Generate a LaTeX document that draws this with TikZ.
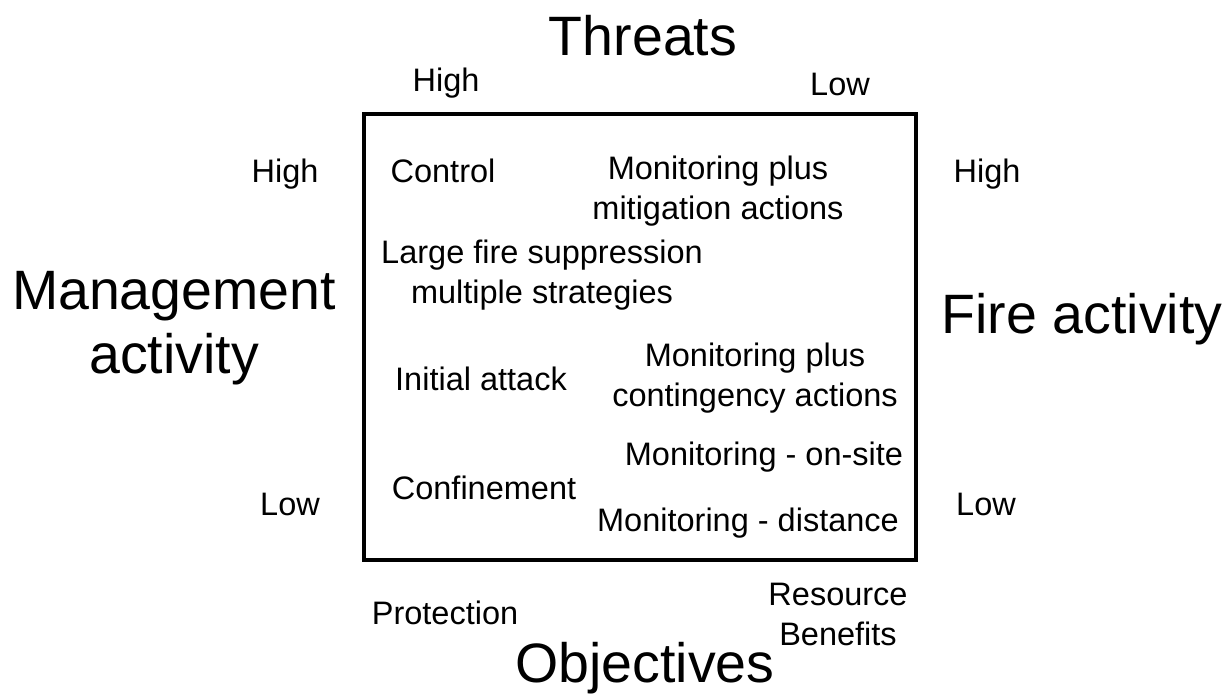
\documentclass[tikz,border=0pt]{standalone}
\usepackage{fontspec}
\setmainfont{Liberation Sans}
\begin{document}
\begin{tikzpicture}[x=1pt,y=-1pt,
  small/.style={font=\fontsize{32.5}{40}\selectfont, inner sep=0pt, align=center},
  big/.style={font=\fontsize{55.5}{62}\selectfont, inner sep=0pt, align=center}]
\useasboundingbox (0,0) rectangle (1225,698);
\draw[line width=4pt] (363.5,114.5) rectangle (916,560);
\node[big] (threats) at (643,36) {Threats};
\node[small] (thigh) at (446,83) {High};
\node[small] (tlow) at (840,84) {Low};
\node[small] (lhigh) at (285,174) {High};
\node[small] (rhigh) at (987,174) {High};
\node[small] (llow) at (290,504) {Low};
\node[small] (rlow) at (986,504) {Low};
\node[big, font=\fontsize{55.5}{64}\selectfont] (mgmt) at (174,328) {Management\\activity};
\node[big] (fire) at (1082,319) {Fire activity};
\node[small] (prot) at (445,613) {Protection};
\node[small] (res) at (838,614) {Resource\\Benefits};
\node[big] (obj) at (645,668) {Objectives};
\node[small] (control) at (443,171) {Control};
\node[small] (mitig) at (718,191) {Monitoring plus\\mitigation actions};
\node[small] (large) at (542,275) {Large fire suppression\\multiple strategies};
\node[small] (init) at (481,379) {Initial attack};
\node[small] (conting) at (755,378) {Monitoring plus\\contingency actions};
\node[small] (onsite) at (764,457) {Monitoring - on-site};
\node[small] (confine) at (484,488) {Confinement};
\node[small] (dist) at (748,523) {Monitoring - distance};
\end{tikzpicture}
\end{document}
